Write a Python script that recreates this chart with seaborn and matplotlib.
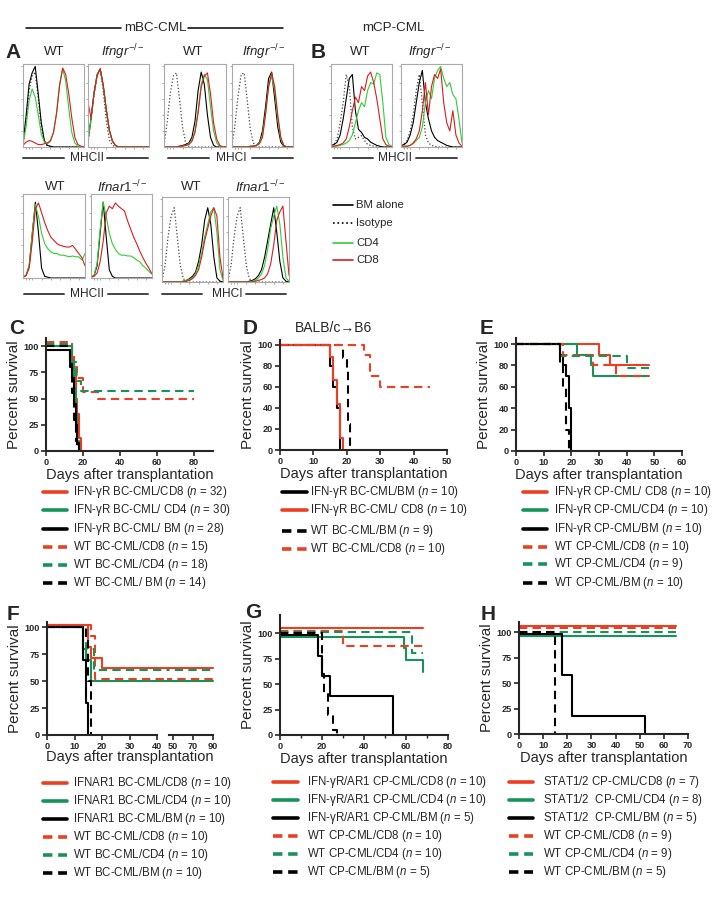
import matplotlib
matplotlib.use('Agg')
import matplotlib.pyplot as plt
from matplotlib.lines import Line2D
import seaborn as sns

# ---------------- flow histograms (fraction of box height) -------------
hist_x = [0, .05, .1, .15, .2, .25, .3, .35, .4, .45, .5, .55, .6, .65, .7, .75, .8, .85, .9, .95, 1.0]

# A: mBC-CML, Ifngr row  (iso, BM, CD4, CD8)
a1_iso = [.02, .30, .70, .88, .93, .60, .25, .06, .01, 0, 0, 0, 0, 0, 0, 0, 0, 0, 0, 0, 0]
a1_bm = [.05, .38, .78, .92, 1.0, .66, .30, .08, .02, .01, 0, 0, 0, 0, 0, 0, 0, 0, 0, 0, 0]
a1_cd4 = [.03, .25, .58, .72, .62, .40, .16, .06, .04, .07, .18, .42, .78, .97, .82, .48, .18, .05, .01, 0, 0]
a1_cd8 = [.02, .06, .08, .07, .05, .03, .03, .04, .05, .08, .18, .42, .76, .98, .90, .66, .36, .12, .03, .01, 0]

a2_iso = [.05, .33, .65, .88, .96, .70, .32, .09, .02, 0, 0, 0, 0, 0, 0, 0, 0, 0, 0, 0, 0]
a2_bm = [.08, .36, .68, .90, .97, .76, .46, .21, .07, .02, 0, 0, 0, 0, 0, 0, 0, 0, 0, 0, 0]
a2_cd4 = [.08, .35, .66, .90, .96, .75, .46, .20, .07, .02, 0, 0, 0, 0, 0, 0, 0, 0, 0, 0, 0]
a2_cd8 = [.55, .36, .67, .89, .97, .77, .47, .21, .08, .02, 0, 0, 0, 0, 0, 0, 0, 0, 0, 0, 0]

a3_iso = [.02, .30, .66, .88, .92, .60, .24, .05, .01, 0, 0, 0, 0, 0, 0, 0, 0, 0, 0, 0, 0]
a3_bm = [0, 0, 0, 0, 0, .01, .02, .03, .05, .12, .32, .70, .93, .78, .40, .12, .02, 0, 0, 0, 0]
a3_cd4 = [0, 0, 0, 0, 0, .01, .01, .02, .04, .08, .20, .45, .78, .90, .84, .50, .20, .05, .01, 0, 0]
a3_cd8 = [0, 0, 0, 0, 0, .01, .01, .02, .03, .07, .18, .42, .74, .88, .92, .66, .30, .10, .02, 0, 0]

a4_iso = [.02, .28, .64, .90, .92, .58, .22, .05, .01, 0, 0, 0, 0, 0, 0, 0, 0, 0, 0, 0, 0]
a4_bm = [0, 0, 0, 0, 0, 0, .01, .01, .02, .06, .20, .50, .85, .93, .60, .25, .06, .01, 0, 0, 0]
a4_cd4 = [0, 0, 0, 0, 0, 0, .01, .01, .02, .05, .15, .42, .75, .88, .70, .35, .10, .02, 0, 0, 0]
a4_cd8 = [0, 0, 0, 0, 0, 0, 0, .01, .02, .04, .12, .40, .75, .92, .75, .40, .12, .02, 0, 0, 0]

# B: mCP-CML
b1_iso = [.02, .04, .10, .30, .55, .90, .75, .25, .10, .12, .14, .08, .03, .02, .01, 0, 0, 0, 0, 0, 0]
b1_bm = [.02, .03, .06, .15, .35, .60, .85, .90, .45, .22, .18, .12, .10, .06, .04, .02, .01, 0, 0, 0, 0]
b1_cd4 = [.01, .01, .01, .02, .03, .05, .08, .15, .30, .45, .55, .50, .70, .80, .78, .92, .90, .55, .12, .03, .01]
b1_cd8 = [.01, .01, .02, .03, .05, .10, .25, .45, .62, .55, .75, .70, .88, .93, .80, .60, .35, .10, .03, .01, 0]

b2_iso = [.02, .04, .08, .20, .40, .70, .90, .55, .15, .05, .02, .01, 0, 0, 0, 0, 0, 0, 0, 0, 0]
b2_bm = [.02, .03, .06, .15, .30, .55, .80, .95, .55, .35, .20, .12, .08, .06, .04, .02, .01, 0, 0, 0, 0]
b2_cd4 = [.01, .01, .01, .02, .04, .08, .12, .25, .55, .70, .60, .85, .95, 1.0, .85, .75, .80, .65, .60, .35, .05]
b2_cd8 = [.01, .01, .01, .02, .05, .10, .20, .45, .80, .40, .75, .90, .85, .97, .55, .30, .20, .45, .15, .05, .01]

# A lower row: Ifnar1
c1_bm = [.01, .03, .15, .55, .93, .55, .12, .02, .01, 0, 0, 0, 0, 0, 0, 0, 0, 0, 0, 0, 0]
c1_cd4 = [.01, .03, .15, .55, .90, .75, .55, .42, .36, .32, .30, .30, .28, .28, .27, .26, .27, .26, .26, .22, .30]
c1_cd8 = [.01, .03, .12, .45, .85, .92, .80, .68, .58, .50, .46, .42, .40, .39, .38, .38, .40, .35, .30, .25, .15]

c2_bm = [.01, .03, .15, .55, .93, .50, .10, .02, 0, 0, 0, 0, 0, 0, 0, 0, 0, 0, 0, 0, 0]
c2_cd4 = [.01, .03, .18, .60, .93, .75, .55, .42, .35, .30, .28, .28, .27, .27, .25, .22, .20, .15, .12, .08, .05]
c2_cd8 = [.01, .02, .06, .20, .45, .80, .88, .85, .92, .88, .85, .82, .70, .60, .50, .42, .33, .25, .18, .12, .05]

c3_iso = [.02, .20, .55, .80, .90, .55, .20, .04, .01, 0, 0, 0, 0, 0, 0, 0, 0, 0, 0, 0, 0]
c3_bm = [0, 0, 0, 0, 0, 0, 0, .01, .02, .04, .07, .12, .25, .45, .75, .90, .70, .30, .05, .01, 0]
c3_cd4 = [0, 0, 0, 0, 0, 0, 0, .01, .02, .03, .05, .10, .20, .35, .55, .70, .85, .90, .60, .15, .02]
c3_cd8 = [0, 0, 0, 0, 0, 0, 0, 0, .01, .02, .04, .08, .15, .30, .50, .65, .80, .90, .80, .30, .05]

c4_iso = [.02, .20, .55, .80, .90, .55, .20, .04, .01, 0, 0, 0, 0, 0, 0, 0, 0, 0, 0, 0, 0]
c4_bm = [0, 0, 0, 0, 0, 0, 0, .01, .02, .04, .08, .15, .30, .50, .70, .90, .60, .25, .05, .01, 0]
c4_cd4 = [0, 0, 0, 0, 0, 0, 0, 0, .01, .02, .05, .10, .20, .40, .65, .80, .92, .70, .30, .05, .01]
c4_cd8 = [0, 0, 0, 0, 0, 0, 0, 0, 0, .01, .02, .03, .05, .10, .22, .45, .75, .85, .92, .50, .08]

# ---------------- survival curves (days, percent) -------------
c_ifn_cd8_t, c_ifn_cd8_s = [0, 14, 15, 16, 17, 18, 19], [100, 90, 72, 50, 35, 12, 0]
c_ifn_cd4_t, c_ifn_cd4_s = [0, 14, 15, 16, 17, 18], [100, 85, 60, 35, 10, 0]
c_ifn_bm_t, c_ifn_bm_s = [0, 13, 14, 15, 16, 17, 18], [96, 85, 70, 45, 25, 8, 0]
c_wt_cd8_t, c_wt_cd8_s = [0, 14, 15, 17, 20, 28, 80], [104, 90, 80, 70, 56, 50, 50]
c_wt_cd4_t, c_wt_cd4_s = [0, 14, 16, 17, 19, 80], [102, 85, 72, 67, 57, 57]
c_wt_bm_t, c_wt_bm_s = [0, 13, 14, 15, 16, 17], [100, 80, 55, 30, 10, 0]

d_ifn_bm_t, d_ifn_bm_s = [0, 15, 16, 17, 18], [100, 80, 60, 40, 0]
d_ifn_cd8_t, d_ifn_cd8_s = [0, 15, 16, 17, 18, 19], [100, 89, 67, 44, 11, 0]
d_wt_bm_t, d_wt_bm_s = [0, 19, 20, 20.5, 21], [100, 88, 75, 25, 0]
d_wt_cd8_t, d_wt_cd8_s = [0, 25, 27, 30, 45], [100, 90, 70, 60, 60]

e_ifn_cd8_t, e_ifn_cd8_s = [0, 30, 34, 48], [100, 90, 80, 80]
e_ifn_cd4_t, e_ifn_cd4_s = [0, 22, 27, 28, 48], [100, 90, 80, 70, 70]
e_ifn_bm_t, e_ifn_bm_s = [0, 16, 17, 18, 19, 20], [100, 90, 80, 70, 40, 0]
e_wt_cd8_t, e_wt_cd8_s = [0, 17, 28, 36, 48], [100, 90, 80, 70, 70]
e_wt_cd4_t, e_wt_cd4_s = [0, 16, 40, 48], [100, 89, 78, 78]
e_wt_bm_t, e_wt_bm_s = [0, 16, 17, 18, 19], [100, 80, 60, 20, 0]

f_ko_cd8_t, f_ko_cd8_s = [0, 15, 16, 20, 90], [102, 82, 72, 62, 62]
f_ko_cd4_t, f_ko_cd4_s = [0, 13, 14, 16, 90], [100, 80, 70, 50, 50]
f_ko_bm_t, f_ko_bm_s = [0, 13, 14, 15], [100, 70, 30, 0]
f_wt_cd8_t, f_wt_cd8_s = [0, 16, 17.5, 90], [102, 92, 52, 52]
f_wt_cd4_t, f_wt_cd4_s = [0, 14, 17, 90], [100, 80, 60, 60]
f_wt_bm_t, f_wt_bm_s = [0, 14, 15, 16], [100, 90, 50, 0]

g_ko_cd8_t, g_ko_cd8_s = [0, 68], [105, 105]
g_ko_cd4_t, g_ko_cd4_s = [0, 59, 60, 68], [96, 86, 74, 62]
g_ko_bm_t, g_ko_bm_s = [0, 18, 20, 24, 54], [98, 78, 58, 38, 0]
g_wt_cd8_t, g_wt_cd8_s = [0, 30, 68], [102, 88, 88]
g_wt_cd4_t, g_wt_cd4_s = [0, 63, 68], [101, 81, 81]
g_wt_bm_t, g_wt_bm_s = [0, 20, 21, 23, 25, 27], [100, 60, 40, 20, 5, 0]

h_ko_cd8_t, h_ko_cd8_s = [0, 65], [106, 106]
h_ko_cd4_t, h_ko_cd4_s = [0, 65], [96, 96]
h_ko_bm_t, h_ko_bm_s = [0, 18, 22, 52], [98, 58, 18, 0]
h_wt_cd8_t, h_wt_cd8_s = [0, 65], [104, 104]
h_wt_cd4_t, h_wt_cd4_s = [0, 65], [100, 100]
h_wt_bm_t, h_wt_bm_s = [0, 15], [100, 0]

c_labels = ['IFN-γR BC-CML/CD8 ($\\it{n}$ = 32)', 'IFN-γR BC-CML/ CD4 ($\\it{n}$ = 30)',
            'IFN-γR BC-CML/ BM ($\\it{n}$ = 28)', 'WT BC-CML/CD8 ($\\it{n}$ = 15)',
            'WT BC-CML/CD4 ($\\it{n}$ = 18)', 'WT BC-CML/ BM ($\\it{n}$ = 14)']
d_labels = ['IFN-γR BC-CML/BM ($\\it{n}$ = 10)', 'IFN-γR BC-CML/ CD8 ($\\it{n}$ = 10)',
            'WT BC-CML/BM ($\\it{n}$ = 9)', 'WT BC-CML/CD8 ($\\it{n}$ = 10)']
e_labels = ['IFN-γR CP-CML/ CD8 ($\\it{n}$ = 10)', 'IFN-γR CP-CML/CD4 ($\\it{n}$ = 10)',
            'IFN-γR CP-CML/BM ($\\it{n}$ = 10)', 'WT CP-CML/CD8 ($\\it{n}$ = 10)',
            'WT CP-CML/CD4 ($\\it{n}$ = 9)', 'WT CP-CML/BM ($\\it{n}$ = 10)']
f_labels = ['IFNAR1 BC-CML/CD8 ($\\it{n}$ = 10)', 'IFNAR1 BC-CML/CD4 ($\\it{n}$ = 10)',
            'IFNAR1 BC-CML/BM ($\\it{n}$ = 10)', 'WT BC-CML/CD8 ($\\it{n}$ = 10)',
            'WT BC-CML/CD4 ($\\it{n}$ = 10)', 'WT BC-CML/BM ($\\it{n}$ = 10)']
g_labels = ['IFN-γR/AR1 CP-CML/CD8 ($\\it{n}$ = 10)', 'IFN-γR/AR1 CP-CML/CD4 ($\\it{n}$ = 10)',
            'IFN-γR/AR1 CP-CML/BM ($\\it{n}$ = 5)', 'WT CP-CML/CD8 ($\\it{n}$ = 10)',
            'WT CP-CML/CD4 ($\\it{n}$ = 10)', 'WT CP-CML/BM ($\\it{n}$ = 5)']
h_labels = ['STAT1/2 CP-CML/CD8 ($\\it{n}$ = 7)', 'STAT1/2  CP-CML/CD4 ($\\it{n}$ = 8)',
            'STAT1/2  CP-CML/BM ($\\it{n}$ = 5)', 'WT CP-CML/CD8 ($\\it{n}$ = 9)',
            'WT CP-CML/CD4 ($\\it{n}$ = 9)', 'WT CP-CML/BM ($\\it{n}$ = 5)']
hist_legend = ['BM alone', 'Isotype', 'CD4', 'CD8']

# ---------------- style -------------
W, H = 722, 914
sns.set_style('ticks')
plt.rcParams['font.family'] = ['Liberation Sans', 'DejaVu Sans']
plt.rcParams['mathtext.fontset'] = 'custom'
plt.rcParams['mathtext.rm'] = 'Liberation Sans'
plt.rcParams['mathtext.it'] = 'Liberation Sans:italic'
plt.rcParams['mathtext.bf'] = 'Liberation Sans:bold'

RED = '#ea3f22'
GREEN = '#17935a'
HRED = '#d81e1e'
HGREEN = '#33cc33'
DASH = (0, (4, 2.5))
SOLID = '-'

fig = plt.figure(figsize=(W / 100, H / 100), dpi=100)


def rect(x0, y0, x1, y1):
    return [x0 / W, 1 - y1 / H, (x1 - x0) / W, (y1 - y0) / H]


def fx(x):
    return x / W


def fy(y):
    return 1 - y / H


def hline(x0, x1, y, color='#333333', lw=1.3, ls='-'):
    fig.add_artist(Line2D([fx(x0), fx(x1)], [fy(y), fy(y)], color=color, lw=lw, ls=ls,
                          transform=fig.transFigure))


def hist_panel(box, iso, bm, cd4, cd8):
    ax = fig.add_axes(rect(*box))
    if iso is not None:
        sns.lineplot(x=hist_x, y=iso, color='#444444', ls=':', lw=0.9, ax=ax, sort=False, estimator=None)
    sns.lineplot(x=hist_x, y=bm, color='black', lw=0.8, ax=ax, sort=False, estimator=None)
    sns.lineplot(x=hist_x, y=cd4, color=HGREEN, lw=0.8, ax=ax, sort=False, estimator=None)
    sns.lineplot(x=hist_x, y=cd8, color=HRED, lw=0.8, ax=ax, sort=False, estimator=None)
    ax.set_xlim(0, 1)
    ax.set_ylim(0, 1.03)
    ax.set_xticks([0.05, 0.1, 0.15, 0.3, 0.45, 0.6, 0.75, 0.9])
    ax.set_yticks([0.2, 0.4, 0.6, 0.8, 1.0])
    ax.tick_params(length=1.5, width=0.5, colors='#888888', labelleft=False, labelbottom=False)
    for s in ax.spines.values():
        s.set_color('#aaaaaa')
        s.set_linewidth(0.8)
    ax.set(xlabel=None, ylabel=None)
    return ax


def under_label(x0, x1, x2, x3, xt, y, text):
    # leave a small gap on both sides of the text
    hline(x0, x1 - 3, y, color='#444444', lw=1.4)
    hline(x2 + 3, x3, y, color='#444444', lw=1.4)
    fig.text(fx(xt), fy(y), text, ha='center', va='center', fontsize=8.6)


def surv_panel(box, xlim, ylim, xticks, yticks, series, clip=False, ylabel=True, xlabel=True):
    ax = fig.add_axes(rect(*box))
    for t, s, color, ls in series:
        sns.lineplot(x=t, y=s, drawstyle='steps-post', color=color, ls=ls, lw=1.5, ax=ax,
                     sort=False, estimator=None, clip_on=clip)
    ax.set_xlim(*xlim)
    ax.set_ylim(*ylim)
    ax.set_xticks(xticks)
    ax.set_yticks(yticks)
    sns.despine(ax=ax)
    for s in ['left', 'bottom']:
        ax.spines[s].set_linewidth(1.5)
    ax.tick_params(length=3.5, width=1.2, labelsize=6.6, pad=1.5)
    for lab in ax.get_xticklabels() + ax.get_yticklabels():
        lab.set_fontweight('bold')
    ax.set_xlabel('Days after transplantation' if xlabel else '', fontsize=10.5, labelpad=1)
    ax.set_ylabel('Percent survival' if ylabel else '', fontsize=11, labelpad=2)
    return ax


def legend_rows(x0, x1, xt, ys, styles, labels):
    for y, (color, ls), lab in zip(ys, styles, labels):
        lst = '-' if ls == SOLID else (0, (2.6, 1.6))
        hline(x0, x1, y, color=color, lw=2.6, ls=lst)
        fig.text(fx(xt), fy(y), lab, fontsize=8.3, va='center', ha='left')


def letter(x, y, s):
    fig.text(fx(x), fy(y), s, fontsize=15, fontweight='bold', ha='center', va='center')


# ---------------- top: flow histograms -------------
hline(26, 121, 28, color='black', lw=1.1)
hline(188, 283, 28, color='black', lw=1.1)
fig.text(fx(155), fy(28), 'mBC-CML', ha='center', va='center', fontsize=9.6)
fig.text(fx(393), fy(28), 'mCP-CML', ha='center', va='center', fontsize=9.6)
letter(13, 52, 'A')
letter(318, 52, 'B')

ko_g = r'$\it{Ifngr}^{-/-}$'
ko_a = r'$\it{Ifnar1}^{-/-}$'
for x, t in [(54, 'WT'), (123, ko_g), (193, 'WT'), (264, ko_g), (360, 'WT'), (430, ko_g)]:
    fig.text(fx(x), fy(52), t, ha='center', va='center', fontsize=9.5)
for x, t in [(55, 'WT'), (122, ko_a), (191, 'WT'), (260, ko_a)]:
    fig.text(fx(x), fy(187), t, ha='center', va='center', fontsize=9.5)

hist_panel((23, 64, 84, 147), a1_iso, a1_bm, a1_cd4, a1_cd8)
hist_panel((88, 64, 149, 147), a2_iso, a2_bm, a2_cd4, a2_cd8)
hist_panel((164, 64, 226, 147), a3_iso, a3_bm, a3_cd4, a3_cd8)
hist_panel((232, 64, 293, 147), a4_iso, a4_bm, a4_cd4, a4_cd8)
hist_panel((331, 64, 392, 147), b1_iso, b1_bm, b1_cd4, b1_cd8)
hist_panel((401, 64, 462, 147), b2_iso, b2_bm, b2_cd4, b2_cd8)
hist_panel((23, 194, 85, 278), None, c1_bm, c1_cd4, c1_cd8)
hist_panel((91, 194, 152, 278), None, c2_bm, c2_cd4, c2_cd8)
hist_panel((162, 197, 223, 282), c3_iso, c3_bm, c3_cd4, c3_cd8)
hist_panel((228, 197, 289, 282), c4_iso, c4_bm, c4_cd4, c4_cd8)

under_label(23, 67, 104, 148, 87, 158, 'MHCII')
under_label(168, 212, 249, 293, 231, 158, 'MHCI')
under_label(333, 376, 413, 457, 395, 158, 'MHCII')
under_label(24, 67, 105, 148, 87, 294, 'MHCII')
under_label(162, 205, 243, 286, 227, 294, 'MHCI')

for y, (c, ls), lab in zip([205, 223, 243, 260],
                           [('black', '-'), ('black', ':'), (HGREEN, '-'), (HRED, '-')],
                           hist_legend):
    hline(333, 353, y, color=c, lw=1.2, ls=ls)
    fig.text(fx(356), fy(y), lab, va='center', ha='left', fontsize=8.2)

# ---------------- survival panels -------------
std_styles = [(RED, SOLID), (GREEN, SOLID), ('black', SOLID), (RED, DASH), (GREEN, DASH), ('black', DASH)]

letter(17, 328, 'C')
surv_panel((46, 337.6, 212.5, 451), (0, 90), (0, 108), [0, 20, 40, 60, 80], [0, 25, 50, 75, 100],
           [(c_ifn_cd8_t, c_ifn_cd8_s, RED, SOLID), (c_ifn_cd4_t, c_ifn_cd4_s, GREEN, SOLID),
            (c_ifn_bm_t, c_ifn_bm_s, 'black', SOLID), (c_wt_cd8_t, c_wt_cd8_s, RED, DASH),
            (c_wt_cd4_t, c_wt_cd4_s, GREEN, DASH), (c_wt_bm_t, c_wt_bm_s, 'black', DASH)])
legend_rows(43, 67, 73, [492, 510, 529, 547, 565, 583], std_styles, c_labels)

letter(250, 328, 'D')
fig.text(fx(333), fy(328), 'BALB/c→B6', ha='center', va='center', fontsize=10)
surv_panel((280, 339.7, 447, 450), (0, 50), (0, 105), [0, 10, 20, 30, 40, 50], [0, 20, 40, 60, 80, 100],
           [(d_ifn_bm_t, d_ifn_bm_s, 'black', SOLID), (d_ifn_cd8_t, d_ifn_cd8_s, RED, SOLID),
            (d_wt_bm_t, d_wt_bm_s, 'black', DASH), (d_wt_cd8_t, d_wt_cd8_s, RED, DASH)])
legend_rows(282, 307, 310, [492, 510, 531, 549],
            [('black', SOLID), (RED, SOLID), ('black', DASH), (RED, DASH)], d_labels)

letter(487, 328, 'E')
surv_panel((516, 337.6, 682, 451), (0, 60), (0, 106), [0, 10, 20, 30, 40, 50, 60], [0, 20, 40, 60, 80, 100],
           [(e_ifn_cd8_t, e_ifn_cd8_s, RED, SOLID), (e_ifn_cd4_t, e_ifn_cd4_s, GREEN, SOLID),
            (e_ifn_bm_t, e_ifn_bm_s, 'black', SOLID), (e_wt_cd8_t, e_wt_cd8_s, RED, DASH),
            (e_wt_cd4_t, e_wt_cd4_s, GREEN, DASH), (e_wt_bm_t, e_wt_bm_s, 'black', DASH)])
legend_rows(523, 547, 554, [492, 510, 529, 547, 564, 583], std_styles, e_labels)

letter(13, 615, 'F')
f_series = [(f_ko_cd8_t, f_ko_cd8_s, RED, SOLID), (f_ko_cd4_t, f_ko_cd4_s, GREEN, SOLID),
            (f_ko_bm_t, f_ko_bm_s, 'black', SOLID), (f_wt_cd8_t, f_wt_cd8_s, RED, DASH),
            (f_wt_cd4_t, f_wt_cd4_s, GREEN, DASH), (f_wt_bm_t, f_wt_bm_s, 'black', DASH)]
axf1 = surv_panel((47, 622, 168, 735), (0, 44), (0, 105), [0, 10, 20, 30, 40], [0, 25, 50, 75, 100],
                  f_series, clip=True, xlabel=False)
axf1.spines['bottom'].set_bounds(0, 40)
axf2 = surv_panel((167, 622, 215, 735), (44, 92), (0, 105), [50, 70, 90], [], f_series, clip=True,
                  ylabel=False, xlabel=False)
axf2.spines['left'].set_visible(False)
axf2.tick_params(axis='y', left=False)
axf2.spines['bottom'].set_bounds(46, 90)
fig.text(fx(130), fy(757), 'Days after transplantation', ha='center', va='center', fontsize=10.5)
legend_rows(43, 67, 73, [783, 801, 819, 837, 855, 873], std_styles, f_labels)

letter(253, 613, 'G')
axg = surv_panel((280, 615, 448, 735), (0, 80), (0, 118), [0, 20, 40, 60, 80], [0, 25, 50, 75, 100],
                 [(g_ko_cd8_t, g_ko_cd8_s, RED, SOLID), (g_ko_cd4_t, g_ko_cd4_s, GREEN, SOLID),
                  (g_ko_bm_t, g_ko_bm_s, 'black', SOLID), (g_wt_cd8_t, g_wt_cd8_s, RED, DASH),
                  (g_wt_cd4_t, g_wt_cd4_s, GREEN, DASH), (g_wt_bm_t, g_wt_bm_s, 'black', DASH)])
axg.set_xticks([10, 30, 50, 70], minor=True)
axg.tick_params(which='minor', length=2.5, width=1.0)
legend_rows(273, 298, 307, [782, 800, 818, 836, 854, 872], std_styles, g_labels)

letter(488, 615, 'H')
surv_panel((519, 622, 688, 734), (0, 70), (0, 110), [0, 10, 20, 30, 40, 50, 60, 70], [0, 25, 50, 75, 100],
           [(h_ko_cd8_t, h_ko_cd8_s, RED, SOLID), (h_ko_cd4_t, h_ko_cd4_s, GREEN, SOLID),
            (h_ko_bm_t, h_ko_bm_s, 'black', SOLID), (h_wt_cd8_t, h_wt_cd8_s, RED, DASH),
            (h_wt_cd4_t, h_wt_cd4_s, GREEN, DASH), (h_wt_bm_t, h_wt_bm_s, 'black', DASH)])
legend_rows(509, 533, 543, [782, 800, 818, 836, 854, 872], std_styles, h_labels)

fig.savefig('out.png', dpi=100)
